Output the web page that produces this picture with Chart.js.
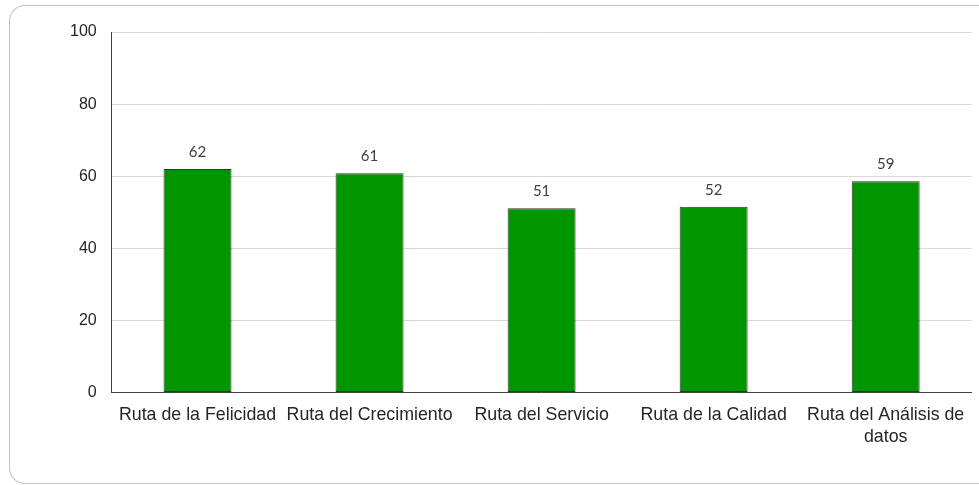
<!DOCTYPE html>
<html>
<head>
<meta charset="utf-8">
<script src="https://cdn.jsdelivr.net/npm/chart.js@4/dist/chart.umd.min.js"></script>
<style>
  html, body { margin: 0; padding: 0; width: 979px; height: 485px; overflow: hidden; background: #fff; }
  #frame { position: absolute; left: 9px; top: 5px; width: 970px; height: 479px; border: 1.5px solid #c4c4c4; border-right: none; border-radius: 16px 0 0 16px; box-sizing: border-box; }
  #c { position: absolute; left: 0; top: 0; }
</style>
</head>
<body>
<div id="frame"></div>
<canvas id="c" width="979" height="485"></canvas>
<script>
const categories = ['Ruta de la Felicidad', 'Ruta del Crecimiento', 'Ruta del Servicio', 'Ruta de la Calidad', ['Ruta del Análisis de', 'datos']];
const values = [62.0, 60.8, 51.1, 51.5, 58.6];
const yTicks = [0, 20, 40, 60, 80, 100];

const labelPlugin = {
  id: 'barLabels',
  afterDatasetsDraw(chart) {
    const ctx = chart.ctx;
    const meta = chart.getDatasetMeta(0);
    ctx.save();
    ctx.font = '15px Lato, "Open Sans", sans-serif';
    ctx.fillStyle = '#404040';
    ctx.textAlign = 'center';
    ctx.textBaseline = 'middle';
    meta.data.forEach((bar, i) => {
      ctx.fillText(String(Math.round(values[i])), bar.x, bar.y - 16.7);
    });
    ctx.restore();
  }
};

new Chart(document.getElementById('c'), {
  type: 'bar',
  data: {
    labels: categories,
    datasets: [{
      data: values,
      backgroundColor: '#009600',
      borderColor: '#333333',
      borderWidth: 1,
      borderSkipped: false,
      categoryPercentage: 1,
      barPercentage: 0.395
    }]
  },
  options: {
    responsive: false,
    animation: false,
    layout: { padding: { left: 0, right: 7.3, top: 32, bottom: 0 } },
    plugins: { legend: { display: false }, tooltip: { enabled: false } },
    scales: {
      x: {
        grid: { display: false, drawTicks: false },
        border: { display: true, color: '#404040', width: 1 },
        ticks: {
          color: '#262626',
          font: { family: '"Liberation Sans", Arial, sans-serif', size: 17.8, lineHeight: 1.27 },
          padding: 11,
          maxRotation: 0,
          autoSkip: false
        },
        afterFit(scale) { scale.height = 92.5; }
      },
      y: {
        min: 0, max: 100,
        afterBuildTicks(scale) { scale.ticks = yTicks.map(v => ({ value: v })); },
        grid: { color: '#d9d9d9', lineWidth: 1, drawTicks: false },
        border: { display: true, color: '#404040', width: 1 },
        ticks: {
          color: '#262626',
          font: { family: '"Liberation Sans", Arial, sans-serif', size: 16 },
          padding: 14.8
        },
        afterFit(scale) { scale.width = 111.5; }
      }
    }
  },
  plugins: [labelPlugin]
});
</script>
</body>
</html>
